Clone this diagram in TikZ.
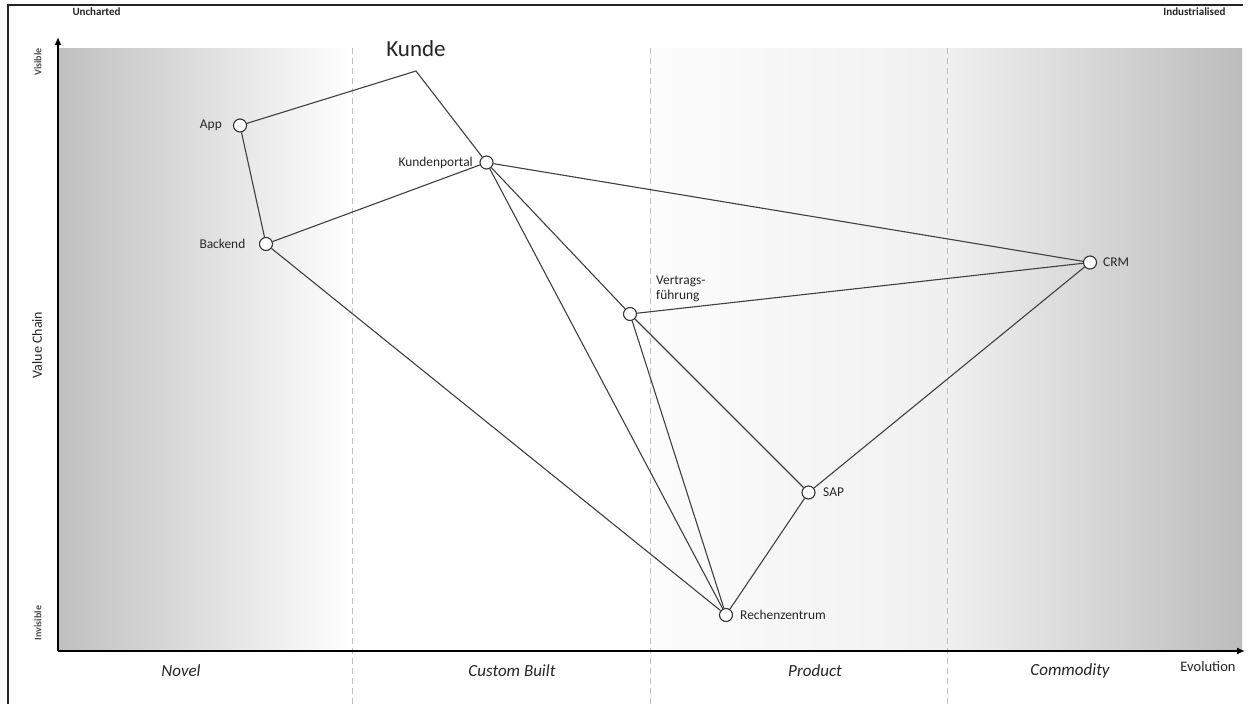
\documentclass[tikz,border=0pt]{standalone}
\usepackage{fontspec}
\setmainfont{Carlito}
\usetikzlibrary{arrows.meta}
\newcommand{\fs}[1]{\fontsize{#1}{#1}\selectfont}
\begin{document}
\begin{tikzpicture}[x=1pt,y=-1pt,
  comp/.style={circle,draw=black!80,fill=white,line width=1.1pt,minimum size=13pt,inner sep=0pt},
  lbl/.style={font=\fs{13.4},text=black!85,inner sep=0pt},
  link/.style={draw=black!75,line width=1.1pt},
  phase/.style={font=\fs{17}\itshape,text=black!85},
  axislbl/.style={font=\fs{11}\bfseries,text=black!85},
  sidelbl/.style={font=\fs{10}\bfseries,text=black!70,rotate=90},
  divider/.style={draw=black!25,line width=0.8pt,dash pattern=on 6pt off 4pt}]
\useasboundingbox (0,0) rectangle (1251,704);
\fill[white] (0,0) rectangle (1251,704);
% frame
\draw[black!85,line width=2pt] (8,704) -- (8,5) -- (1243,5);
% evolution background
\shade[left color=black!25,right color=white] (58,48) rectangle (352,651);
\fill[white] (352,48) rectangle (650,651);
\shade[left color=black!1,right color=black!6] (650,48) rectangle (947,651);
\shade[left color=black!6,right color=black!26] (947,48) rectangle (1242,651);
% phase dividers
\foreach \xx in {352,650,947} \draw[divider] (\xx,48) -- (\xx,704);
% axes
\draw[black,line width=2pt,-{Latex[length=8pt,width=7pt]}] (58,651) -- (58,37);
\draw[black,line width=2pt,-{Latex[length=8pt,width=7pt]}] (58,651) -- (1245,651);
% axis texts
\node[axislbl,anchor=west] (unch) at (69,12) {Uncharted};
\node[axislbl,anchor=east] (ind) at (1229,12) {Industrialised};
\node[sidelbl] (vis) at (38,62) {Visible};
\node[sidelbl] (invis) at (38,623) {Invisible};
\node[font=\fs{14},text=black!85,rotate=90] (vc) at (37,345) {Value Chain};
\node[font=\fs{14.5},text=black!85] (evo) at (1208,667) {Evolution};
\node[phase] (novel) at (181,671) {Novel};
\node[phase] (custom) at (512,671) {Custom Built};
\node[phase] (product) at (815,671) {Product};
\node[phase] (commodity) at (1070,671) {Commodity};
% components
\node[font=\fs{23},text=black!85] (kunde) at (416,49) {Kunde};
\coordinate (kv) at (416,71);
\node[comp] (app) at (240,125.5) {};
\node[comp] (portal) at (486.5,162.5) {};
\node[comp] (backend) at (266,244) {};
\node[comp] (crm) at (1090,262.5) {};
\node[comp] (vf) at (630,314) {};
\node[comp] (sap) at (808.5,492.5) {};
\node[comp] (rz) at (726,615) {};
% component names
\node[lbl,anchor=east] (applbl) at (222,125.5) {App};
\node[lbl,anchor=east] (portallbl) at (473,162.5) {Kundenportal};
\node[lbl,anchor=east] (backendlbl) at (245.5,244) {Backend};
\node[lbl,anchor=west] (crmlbl) at (1103,262.5) {CRM};
\node[lbl,anchor=west] (saplbl) at (823,492.5) {SAP};
\node[lbl,anchor=west] (rzlbl) at (740,615) {Rechenzentrum};
\node[lbl,align=left,anchor=west,font=\fontsize{13.4}{15}\selectfont] (vflbl) at (656,289) {Vertrags-\\führung};
% value chain links
\draw[link] (app) -- (kv) -- (portal);
\draw[link] (app) -- (backend);
\draw[link] (backend) -- (portal);
\draw[link] (backend) -- (rz);
\draw[link] (portal) -- (crm);
\draw[link] (portal) -- (rz);
\draw[link] (portal) -- (vf);
\draw[link] (vf) -- (crm);
\draw[link] (vf) -- (rz);
\draw[link] (vf) -- (sap);
\draw[link] (crm) -- (sap);
\draw[link] (sap) -- (rz);
\end{tikzpicture}
\end{document}
